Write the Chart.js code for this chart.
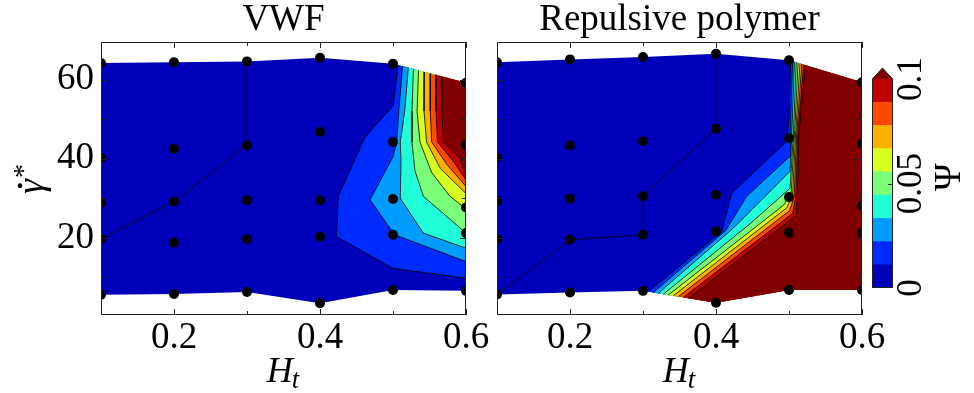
<!DOCTYPE html>
<html lang="en">
<head>
<meta charset="UTF-8"/>
<title>Psi map – VWF vs repulsive polymer</title>
<script src="https://cdn.jsdelivr.net/npm/chart.js"></script>
<style>
  body { margin: 0; background: #fff; }
  .wrap { position: relative; width: 974px; height: 393px; overflow: hidden; }
  canvas { position: absolute; top: 0; }
  #vwf { left: 0; }
  #poly { left: 480px; }
  #cbar { left: 860px; }
</style>
</head>
<body>
<div class="wrap">
  <canvas id="vwf" width="500" height="393"></canvas>
  <canvas id="poly" width="420" height="393"></canvas>
  <canvas id="cbar" width="114" height="393"></canvas>
</div>
<script>
const FONT = "'Liberation Serif', 'Times New Roman', serif";

// simulation points: one column per H_t, shear rates top to bottom
const Ht = [0.1, 0.2, 0.3, 0.4, 0.5, 0.6];
const vwfRate = [
  [64.2, 40.2, 28.9, 19.7, 5.6],
  [64.4, 42.5, 29.2, 18.8, 5.8],
  [64.6, 43.4, 29.5, 19.7, 6.3],
  [65.5, 46.8, 29.5, 20.3, 3.5],
  [64.0, 44.2, 29.8, 20.8, 6.8],
  [59.2, 43.5, 27.7, 21.2, 6.6]
];
const polyRate = [
  [64.4, 40.3, 29.2, 19.7, 5.7],
  [65.1, 43.4, 29.9, 19.5, 6.2],
  [65.7, 44.4, 30.5, 20.8, 6.6],
  [66.5, 47.6, 30.9, 21.6, 3.6],
  [64.9, 45.2, 30.3, 21.3, 6.8],
  [59.3, 43.8, 28.1, 21.3, 6.8]
];

// Psi levels, jet colours of the bands, colour above the top level
const psiLevels = [0, 0.0111, 0.0222, 0.0333, 0.0444, 0.0556, 0.0667, 0.0778, 0.0889, 0.1];
const bandColors = ['#0000bb', '#002bff', '#009cff', '#20ffd7', '#7bff7b', '#d7ff20', '#ffb100', '#ff4800', '#c00000'];
const overColor = '#800000';

// contour lines, (H_t, shear rate), levels 1..9
const vwfContours = [
  [[0.507, 63.7], [0.5005, 53.4], [0.4616, 45.4], [0.425, 30.5], [0.4228, 20.3], [0.5, 12.3], [0.6, 9.8]],
  [[0.513, 63.4], [0.508, 52], [0.505, 44.2], [0.5, 40.5], [0.4685, 29.6], [0.502, 20.8], [0.6, 14.0]],
  [[0.521, 63.0], [0.516, 52], [0.51, 44.2], [0.511, 39.3], [0.51, 30.0], [0.5416, 21.2], [0.6, 17.4]],
  [[0.528, 62.7], [0.526, 52], [0.526, 44.2], [0.53, 37], [0.5416, 30.5], [0.6, 21.2]],
  [[0.535, 62.3], [0.533, 52], [0.537, 44.2], [0.553, 36.5], [0.578, 30.5], [0.6, 27.3]],
  [[0.543, 61.9], [0.5425, 52], [0.546, 44.2], [0.565, 37.5], [0.6, 31.2]],
  [[0.551, 61.5], [0.551, 52], [0.553, 44.2], [0.574, 38.5], [0.6, 33.0]],
  [[0.559, 61.2], [0.559, 52], [0.561, 44.2], [0.582, 39.5], [0.6, 34.6]],
  [[0.566, 60.8], [0.567, 52], [0.569, 44.2], [0.59, 40.5], [0.6, 36.0]]
];
const polyContours = [
  [[0.3073, 6.38], [0.4078, 21.6], [0.4215, 31.3], [0.497, 44.4], [0.5, 50], [0.5023, 64.77]],
  [[0.3141, 6.18], [0.4135, 21.9], [0.442, 30.5], [0.5014, 40.6], [0.5025, 50], [0.505, 64.62]],
  [[0.321, 5.97], [0.424, 22.5], [0.5014, 36.8], [0.504, 47], [0.5075, 64.48]],
  [[0.3278, 5.77], [0.445, 23.3], [0.5014, 32.5], [0.506, 46], [0.51, 64.34]],
  [[0.3347, 5.56], [0.493, 28.3], [0.503, 31.5], [0.5075, 46], [0.5125, 64.2]],
  [[0.3415, 5.36], [0.497, 27.6], [0.505, 31.0], [0.509, 46], [0.515, 64.06]],
  [[0.3484, 5.15], [0.501, 26.9], [0.507, 30.5], [0.5105, 46], [0.5175, 63.92]],
  [[0.3552, 4.94], [0.505, 26.2], [0.509, 30.0], [0.512, 46], [0.52, 63.78]],
  [[0.3621, 4.74], [0.509, 25.5], [0.5115, 29.5], [0.5135, 46], [0.5225, 63.64]]
];
const vwfZeroLine = [[0.1, 19.7], [0.2, 29.2], [0.3, 43.4], [0.3, 64.6]];
const polyZeroLine = [[0.1, 5.7], [0.2, 19.5], [0.3, 20.8], [0.3, 30.5], [0.4, 47.6], [0.4, 66.5]];

const xMajor = [0.2, 0.4, 0.6], xMinor = [0.1, 0.3, 0.5];
const yMajor = [20, 40, 60], yMinor = [10, 30, 50];
const cbarTicks = [0, 0.05, 0.1];

const toPts = pairs => pairs.map(([x, y]) => ({ x, y }));

// frame, inward ticks and axis labels that Chart.js can't typeset
const panelDecor = {
  id: 'panelDecor',
  afterDraw(chart, args, opts) {
    const { ctx, chartArea: a, scales: { x, y } } = chart;
    ctx.save();
    ctx.strokeStyle = '#222';
    ctx.lineWidth = 1;
    ctx.strokeRect(a.left + 0.5, a.top + 0.5, a.width - 1, a.height - 1);
    ctx.beginPath();
    const xt = (v, len) => {
      const p = Math.round(x.getPixelForValue(v)) + 0.5;
      ctx.moveTo(p, a.bottom); ctx.lineTo(p, a.bottom - len);
      ctx.moveTo(p, a.top); ctx.lineTo(p, a.top + len);
    };
    const yt = (v, len) => {
      const p = Math.round(y.getPixelForValue(v)) + 0.5;
      ctx.moveTo(a.left, p); ctx.lineTo(a.left + len, p);
      ctx.moveTo(a.right, p); ctx.lineTo(a.right - len, p);
    };
    xMajor.forEach(v => xt(v, 6)); xMinor.forEach(v => xt(v, 4));
    yMajor.forEach(v => yt(v, 6)); yMinor.forEach(v => yt(v, 4));
    ctx.stroke();

    // H_t
    ctx.fillStyle = '#000';
    ctx.textAlign = 'left';
    ctx.textBaseline = 'alphabetic';
    ctx.font = `italic 36px ${FONT}`;
    const wH = ctx.measureText('H').width;
    ctx.font = `italic 27px ${FONT}`;
    const wt = ctx.measureText('t').width;
    const x0 = (a.left + a.right) / 2 - (wH + wt) / 2;
    ctx.font = `italic 36px ${FONT}`;
    ctx.fillText('H', x0, 382);
    ctx.font = `italic 27px ${FONT}`;
    ctx.fillText('t', x0 + wH - 1, 388);

    if (opts.gammaLabel) {
      ctx.translate(43, 194);
      ctx.rotate(-Math.PI / 2);
      ctx.font = `italic 38px ${FONT}`;
      const wg = ctx.measureText('γ').width;
      ctx.fillText('γ', 0, 0);
      ctx.beginPath();
      ctx.arc(wg * 0.55, -23, 2.4, 0, Math.PI * 2);
      ctx.fill();
      ctx.font = `28px ${FONT}`;
      ctx.fillText('*', wg + 1, -11);
    }
    ctx.restore();
  }
};

function panelChart(id, title, rate, contours, zeroLine, tail, showY, yWidth, padRight) {
  const top = Ht.map((h, i) => [h, rate[i][0]]);
  const bottom = Ht.map((h, i) => [h, rate[i][rate[i].length - 1]]).reverse();
  const datasets = [];
  const fillSet = (pairs, color, order) => ({
    data: toPts(pairs), fill: 'shape', backgroundColor: color,
    borderColor: 'transparent', borderWidth: 0, pointRadius: 0, order
  });
  const lineSet = pairs => ({
    data: toPts(pairs), fill: false, borderColor: '#000', borderWidth: 0.8,
    pointRadius: 0, tension: 0, order: 10
  });
  datasets.push(fillSet(top.concat(bottom), bandColors[0], 100));
  contours.forEach((c, k) => {
    datasets.push(fillSet(c.concat(tail), k < 8 ? bandColors[k + 1] : overColor, 99 - k));
  });
  datasets.push(lineSet(zeroLine));
  contours.forEach(c => datasets.push(lineSet(c)));
  const nodes = [];
  Ht.forEach((h, i) => rate[i].forEach(r => nodes.push({ x: h, y: r })));
  datasets.push({
    data: nodes, showLine: false, pointRadius: 5, pointBackgroundColor: '#000',
    pointBorderWidth: 0, order: 0
  });

  return new Chart(document.getElementById(id), {
    type: 'line',
    data: { datasets },
    options: {
      responsive: false,
      animation: false,
      events: [],
      layout: { padding: { left: 0, right: padRight, top: 0, bottom: 0 } },
      scales: {
        x: {
          type: 'linear', min: 0.1, max: 0.6,
          afterBuildTicks: s => { s.ticks = xMajor.map(v => ({ value: v })); },
          afterFit: s => { s.height = 78; },
          ticks: { font: { family: FONT, size: 37 }, color: '#000', padding: 1,
                   maxRotation: 0, autoSkip: false, callback: v => v.toFixed(1) },
          grid: { display: false, drawTicks: false },
          border: { display: false }
        },
        y: {
          min: 0.5, max: 69.5,
          afterBuildTicks: s => { s.ticks = yMajor.map(v => ({ value: v })); },
          afterFit: s => { s.width = yWidth; },
          ticks: { display: showY, font: { family: FONT, size: 37 }, color: '#000', padding: 7,
                   callback: v => String(v) },
          grid: { display: false, drawTicks: false },
          border: { display: false }
        }
      },
      plugins: {
        legend: { display: false },
        tooltip: { enabled: false },
        title: {
          display: true, text: title, color: '#000', fullSize: false,
          font: { family: FONT, size: 37, weight: 'normal', lineHeight: 1 },
          padding: { top: 2, bottom: 3 }
        },
        panelDecor: { gammaLabel: showY }
      }
    },
    plugins: [panelDecor]
  });
}

panelChart('vwf', 'VWF', vwfRate, vwfContours, vwfZeroLine,
  [[0.6, vwfRate[5][0]]], true, 101, 34);

panelChart('poly', 'Repulsive polymer', polyRate, polyContours, polyZeroLine,
  [[0.6, polyRate[5][0]], [0.6, polyRate[5][4]], [0.5, polyRate[4][4]], [0.4, polyRate[3][4]]],
  false, 17, 38);

// colour bar
const cbarDecor = {
  id: 'cbarDecor',
  afterDraw(chart) {
    const { ctx, chartArea: a, scales: { y } } = chart;
    const mid = (a.left + a.right) / 2;
    ctx.save();
    ctx.fillStyle = overColor;
    ctx.beginPath();
    ctx.moveTo(a.left, a.top); ctx.lineTo(mid, a.top - 11); ctx.lineTo(a.right, a.top);
    ctx.closePath();
    ctx.fill();
    ctx.strokeStyle = '#222';
    ctx.lineWidth = 1;
    ctx.beginPath();
    ctx.moveTo(a.left + 0.5, a.bottom - 0.5);
    ctx.lineTo(a.left + 0.5, a.top);
    ctx.lineTo(mid, a.top - 11);
    ctx.lineTo(a.right - 0.5, a.top);
    ctx.lineTo(a.right - 0.5, a.bottom - 0.5);
    ctx.closePath();
    ctx.stroke();
    const p05 = Math.round(y.getPixelForValue(0.05)) + 0.5;
    ctx.beginPath();
    ctx.moveTo(a.right, p05); ctx.lineTo(a.right - 5, p05);
    ctx.stroke();

    ctx.fillStyle = '#000';
    ctx.textAlign = 'center';
    ctx.textBaseline = 'middle';
    ctx.font = `35px ${FONT}`;
    cbarTicks.forEach(v => {
      ctx.save();
      ctx.translate(a.right + 19, y.getPixelForValue(v));
      ctx.rotate(-Math.PI / 2);
      ctx.fillText(String(v), 0, 0);
      ctx.restore();
    });
    ctx.translate(90, 177);
    ctx.rotate(-Math.PI / 2);
    ctx.font = `37px ${FONT}`;
    ctx.fillText('Ψ', 0, 0);
    ctx.restore();
  }
};

new Chart(document.getElementById('cbar'), {
  type: 'bar',
  data: {
    labels: ['Ψ'],
    datasets: bandColors.map((c, i) => ({
      data: [[psiLevels[i], psiLevels[i + 1]]],
      backgroundColor: c, borderWidth: 0, grouped: false,
      barPercentage: 1, categoryPercentage: 1
    }))
  },
  options: {
    responsive: false,
    animation: false,
    events: [],
    layout: { padding: { left: 12, right: 81, top: 79, bottom: 105 } },
    scales: { x: { display: false }, y: { display: false, min: 0, max: 0.1 } },
    plugins: { legend: { display: false }, tooltip: { enabled: false } }
  },
  plugins: [cbarDecor]
});
</script>
</body>
</html>
